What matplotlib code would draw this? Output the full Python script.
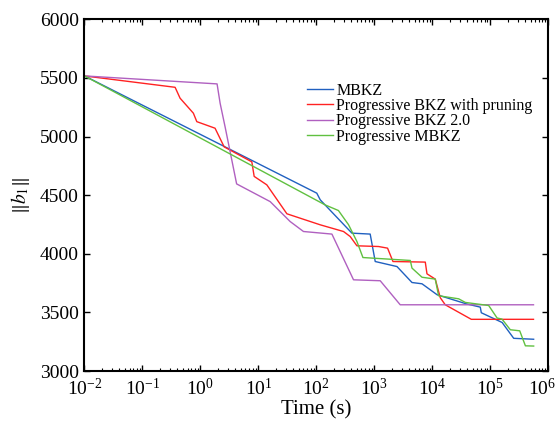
import numpy as np
import matplotlib
matplotlib.use('Agg')
import matplotlib.pyplot as plt
import matplotlib.transforms as mtransforms
from matplotlib import rc

# time (s) and ||b_1||
mbkz_t = [0.01, 102, 117, 412, 851, 1040, 2470, 4480, 6670, 12200, 38800, 67600, 70400, 1.61e5, 2.55e5, 5.63e5]
mbkz_v = [5517, 4517, 4460, 4176, 4168, 3934, 3891, 3755, 3744, 3650, 3573, 3545, 3497, 3414, 3279, 3271]

pbkz_t = [0.01, 0.366, 0.446, 0.757, 0.867, 1.79, 2.57, 7.72, 8.47, 14.0, 31.1, 117, 295, 385, 503,
          1186, 1698, 2105, 7600, 8130, 11300, 13800, 16800, 47300, 5.6e5]
pbkz_v = [5517, 5420, 5327, 5199, 5127, 5071, 4912, 4784, 4660, 4588, 4341, 4247, 4190, 4147, 4068,
          4062, 4048, 3934, 3929, 3829, 3784, 3625, 3565, 3441, 3441]

bkz20_t = [0.01, 1.94, 2.19, 2.67, 4.22, 16.0, 35.4, 60.1, 186, 439, 1268, 2807, 5.6e5]
bkz20_v = [5517, 5449, 5284, 5082, 4596, 4445, 4275, 4190, 4168, 3778, 3770, 3565, 3565]

pmbkz_t = [0.01, 142, 241, 360, 502, 638, 4190, 4480, 6670, 11300, 12900, 28600, 37300, 94300,
           1.32e5, 1.6e5, 2.23e5, 3.24e5, 4.06e5, 5.64e5]
pmbkz_v = [5517, 4417, 4369, 4248, 4105, 3968, 3943, 3878, 3800, 3784, 3642, 3616, 3585, 3559,
           3452, 3443, 3352, 3343, 3215, 3213]

labels = ['MBKZ', 'Progressive BKZ with pruning', 'Progressive BKZ 2.0', 'Progressive MBKZ']
colors = ['#2060c0', '#ff2222', '#b060c0', '#60c040']

rc('font', family='serif', serif=['Liberation Serif', 'DejaVu Serif'], size=11)
rc('mathtext', fontset='stix')

fig = plt.figure(figsize=(5.57, 4.25), dpi=100)
ax = fig.add_axes([0.1517, 0.127, 0.8323, 0.8276])

series = [(mbkz_t, mbkz_v), (pbkz_t, pbkz_v), (bkz20_t, bkz20_v), (pmbkz_t, pmbkz_v)]
for (t, v), lab, c in zip(series, labels, colors):
	ax.plot(t, v, color=c, lw=1.0, label=lab)

ax.set_xscale('log')
ax.set_xlim(1e-2, 1e6)
ax.set_ylim(3000, 6000)
ax.set_yticks(np.arange(3000, 6001, 500))
ax.set_xticks([10.0**k for k in range(-2, 7)])

for s in ax.spines.values():
	s.set_linewidth(1.5)
ax.tick_params(which='both', direction='in', top=True, right=True)
ax.tick_params(which='major', length=4, width=1)
ax.tick_params(which='minor', length=2, width=0.8)
ax.tick_params(axis='x', labelsize=14, pad=5)
ax.tick_params(axis='y', labelsize=14, pad=4)

# nudge the last x label left so it stays inside the figure
lastlab = ax.get_xticklabels()[-1]
lastlab.set_transform(lastlab.get_transform() +
                      mtransforms.ScaledTranslation(-6/100., 0, fig.dpi_scale_trans))

ax.set_xlabel('Time (s)', fontsize=15, labelpad=1)
ax.set_ylabel(r'$\|b_1\|$', fontsize=14, labelpad=6)

ax.legend(loc='upper left', bbox_to_anchor=(0.481, 0.82), frameon=False, fontsize=11.5,
          handlelength=1.6, handletextpad=0.2, labelspacing=-0.04, borderaxespad=0,
          borderpad=0)

plt.savefig('out.png', dpi=100)
